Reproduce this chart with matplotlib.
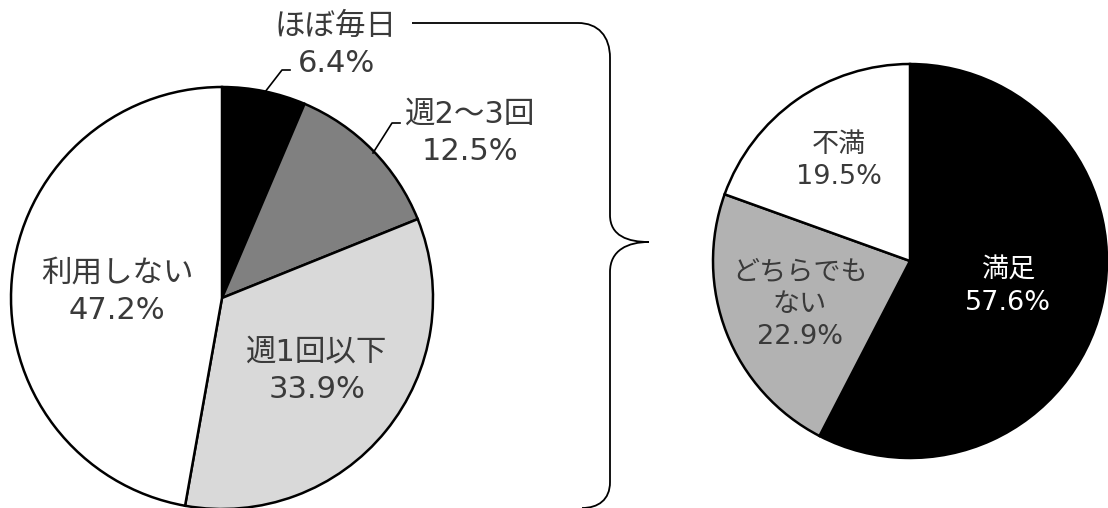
import numpy as np
import matplotlib
matplotlib.use("Agg")
from matplotlib import pyplot as plt
from matplotlib.path import Path
from matplotlib.patches import PathPatch

# latin digits from DejaVu, kana/kanji fall back to Noto CJK
plt.rcParams['font.family'] = ['DejaVu Sans', 'Noto Sans CJK JP']

# usage frequency (left pie)
freq_labels = ['ほぼ毎日', '週2～3回', '週1回以下', '利用しない']
freq_values = [6.4, 12.5, 33.9, 47.2]
freq_colors = ['#000000', '#808080', '#d9d9d9', '#ffffff']

# satisfaction (right pie)
sat_labels = ['満足', 'どちらでも\nない', '不満']
sat_values = [57.6, 22.9, 19.5]
sat_colors = ['#000000', '#b2b2b2', '#ffffff']

W, H = 1108, 508
fig = plt.figure(figsize=(W/100, H/100), dpi=100)
ax = fig.add_axes([0, 0, 1, 1])

def py(y):
    # pixel row (top-down) -> data y
    return H - y

wedge = dict(edgecolor='black', linewidth=1.8)
ax.pie(freq_values, colors=freq_colors, startangle=90, counterclock=False,
       center=(222, py(298)), radius=211, wedgeprops=wedge, frame=True)
ax.pie(sat_values, colors=sat_colors, startangle=90, counterclock=False,
       center=(910, py(261)), radius=197, wedgeprops=wedge, frame=True)

txt = '#3a3a3a'
# left pie labels
left_pos = [(336, 45), (470, 133), (317, 371), (117, 292)]
for lab, val, (x, y) in zip(freq_labels, freq_values, left_pos):
    ax.text(x, py(y), f'{lab}\n{val}%', ha='center', va='center',
            multialignment='center', fontsize=22, color=txt, linespacing=1.38)

# leader lines for the two small slices
ax.plot([290, 282, 265], [py(70), py(70), py(92)], color='black', lw=1.2)
ax.plot([400, 392, 373], [py(123), py(123), py(153)], color='black', lw=1.2)

# right pie labels
right_pos = [(1008, 287), (800, 305), (839, 161)]
right_col = ['white', txt, txt]
for lab, val, (x, y), c in zip(sat_labels, sat_values, right_pos, right_col):
    ax.text(x, py(y), f'{lab}\n{val}%', ha='center', va='center',
            multialignment='center', fontsize=19.5, color=c, linespacing=1.3)

# curly brace linking the two charts
pts = [(412, 23), (578, 23),
       (598, 23), (610, 36), (610, 58),
       (610, 215),
       (610, 236), (628, 242), (649, 242),
       (628, 242), (610, 250), (610, 272),
       (610, 482),
       (610, 500), (598, 508), (582, 508)]
codes = [Path.MOVETO, Path.LINETO,
         Path.CURVE4, Path.CURVE4, Path.CURVE4,
         Path.LINETO,
         Path.CURVE4, Path.CURVE4, Path.CURVE4,
         Path.CURVE4, Path.CURVE4, Path.CURVE4,
         Path.LINETO,
         Path.CURVE4, Path.CURVE4, Path.CURVE4]
brace = Path([(x, py(y)) for x, y in pts], codes)
ax.add_patch(PathPatch(brace, facecolor='none', edgecolor='black', lw=1.3))

ax.set_xlim(0, W)
ax.set_ylim(0, H)
ax.set_aspect('equal')
ax.axis('off')

fig.savefig('out.png', dpi=100, facecolor='white')
